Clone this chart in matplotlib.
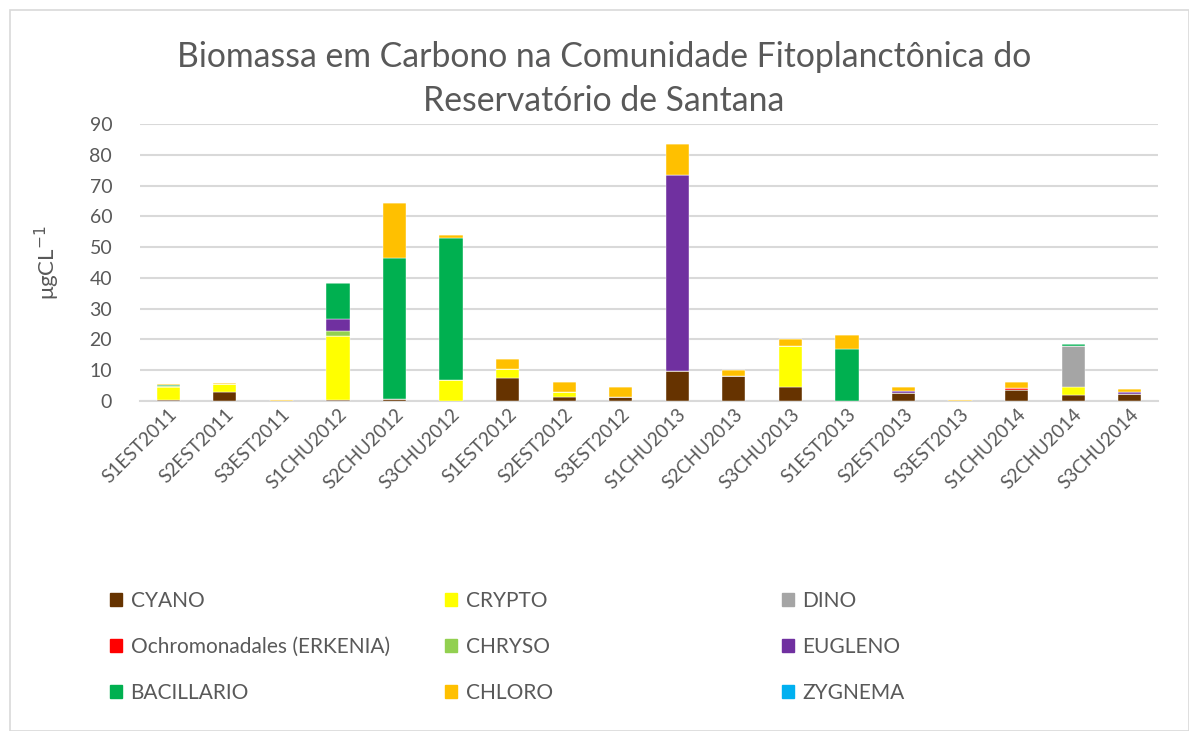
import numpy as np
import matplotlib
matplotlib.use("Agg")
import matplotlib.pyplot as plt
from matplotlib.patches import Rectangle, Patch

plt.rcParams['font.family'] = ['Lato', 'DejaVu Sans']

# sample labels
samples = ['S1EST2011', 'S2EST2011', 'S3EST2011', 'S1CHU2012', 'S2CHU2012', 'S3CHU2012',
           'S1EST2012', 'S2EST2012', 'S3EST2012', 'S1CHU2013', 'S2CHU2013', 'S3CHU2013',
           'S1EST2013', 'S2EST2013', 'S3EST2013', 'S1CHU2014', 'S2CHU2014', 'S3CHU2014']

# biomass per group (ugC/L)
cyano      = [0.4, 2.8, 0.0, 0.4, 0.6, 0.0, 7.6, 1.4, 1.4, 9.9, 8.2, 4.6, 0.0, 2.5, 0.0, 3.6, 2.1, 2.2]
crypto     = [4.3, 2.8, 0.1, 20.8, 0.0, 6.8, 2.7, 1.4, 0.0, 0.0, 0.0, 13.4, 0.0, 0.0, 0.0, 0.0, 2.3, 0.0]
dino       = [0.0, 0.0, 0.0, 0.0, 0.0, 0.0, 0.0, 0.0, 0.0, 0.0, 0.0, 0.0, 0.0, 0.2, 0.0, 0.0, 13.6, 0.1]
ochro      = [0.0, 0.0, 0.0, 0.0, 0.0, 0.0, 0.0, 0.0, 0.0, 0.0, 0.0, 0.0, 0.0, 0.0, 0.0, 0.6, 0.0, 0.0]
chryso     = [0.3, 0.0, 0.0, 1.7, 0.0, 0.0, 0.0, 0.0, 0.0, 0.0, 0.0, 0.0, 0.0, 0.0, 0.0, 0.0, 0.0, 0.0]
eugleno    = [0.0, 0.0, 0.0, 3.9, 0.0, 0.0, 0.0, 0.0, 0.0, 63.6, 0.0, 0.0, 0.0, 0.4, 0.0, 0.0, 0.0, 0.5]
bacillario = [0.3, 0.0, 0.0, 11.4, 45.9, 46.1, 0.0, 0.0, 0.0, 0.0, 0.0, 0.0, 16.8, 0.0, 0.0, 0.0, 0.4, 0.0]
chloro     = [0.2, 0.1, 0.2, 0.3, 17.8, 1.1, 3.4, 3.4, 3.0, 10.0, 2.0, 2.0, 4.8, 1.4, 0.2, 2.0, 0.0, 1.1]
zygnema    = [0.0] * 18

groups = [
    ('CYANO', cyano, '#663300'),
    ('CRYPTO', crypto, '#FFFF00'),
    ('DINO', dino, '#A5A5A5'),
    ('Ochromonadales (ERKENIA)', ochro, '#FF0000'),
    ('CHRYSO', chryso, '#92D050'),
    ('EUGLENO', eugleno, '#7030A0'),
    ('BACILLARIO', bacillario, '#00B050'),
    ('CHLORO', chloro, '#FFC000'),
    ('ZYGNEMA', zygnema, '#00B0F0'),
]

txt = '#595959'
grid = '#D9D9D9'

fig = plt.figure(figsize=(11.89, 7.31), dpi=100)
fig.patches.append(Rectangle((10 / 1189, 0), 1 - 10 / 1189, 1 - 10 / 731, transform=fig.transFigure,
                             fill=False, edgecolor=grid, linewidth=1.2))
ax = fig.add_axes([140 / 1189, 1 - 401 / 731, (1158 - 140) / 1189, (401 - 124) / 731])

x = np.arange(len(samples))
bottom = np.zeros(len(samples))
for name, vals, col in groups:
    vals = np.array(vals)
    ax.bar(x, vals, 0.41, bottom=bottom, color=col, label=name, zorder=3,
           edgecolor='white', linewidth=0.3)
    bottom += vals

ax.set_xlim(-0.5, len(samples) - 0.5)
ax.set_ylim(0, 90)
ax.set_yticks(np.arange(0, 91, 10))
ax.yaxis.grid(True, color=grid, linewidth=1.5, zorder=0)
for s in ['top', 'right', 'left']:
    ax.spines[s].set_visible(False)
ax.spines['bottom'].set_color(grid)
ax.spines['bottom'].set_linewidth(1.5)
ax.tick_params(length=0, colors=txt, labelsize=14)
ax.tick_params(axis='y', pad=20)
ax.set_xticks(x)
ax.set_xticklabels(samples, rotation=45, ha='right', rotation_mode='anchor', fontsize=13.5)

ax.set_ylabel('μgCL$^{-1}$', color=txt, fontsize=16, labelpad=20)

title_x = 604 / 1189
fig.text(title_x, 1 - 57 / 731, 'Biomassa em Carbono na Comunidade Fitoplanctônica do',
         ha='center', va='center', fontsize=24.3, color=txt)
fig.text(title_x, 1 - 101 / 731, 'Reservatório de Santana',
         ha='center', va='center', fontsize=24.3, color=txt)

# legend: three columns placed at fixed positions, filled row by row
handles = [Patch(color=c, label=n) for n, _, c in groups]
col_x = [91, 426, 763]
for j, cx in enumerate(col_x):
    idx = [j, j + 3, j + 6]
    fig.legend([handles[i] for i in idx], [groups[i][0] for i in idx],
               ncol=1, loc='upper left', bbox_to_anchor=(cx / 1189, 1 - 572 / 731),
               frameon=False, fontsize=15, labelcolor=txt, handlelength=0.6,
               handleheight=0.6, handletextpad=0.4, labelspacing=1.25)

fig.savefig('out.png', dpi=100)
